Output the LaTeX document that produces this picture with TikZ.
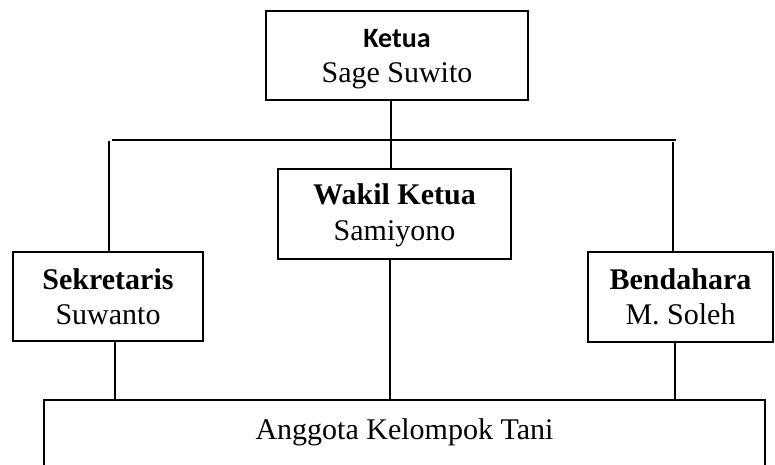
\documentclass[tikz,border=0pt]{standalone}
\usepackage{fontspec}
\setmainfont{Liberation Serif}
\newfontfamily\califont{Carlito}
\begin{document}
\begin{tikzpicture}[x=1pt,y=-1pt,
  box/.style={draw,line width=1.3pt,inner sep=0pt,align=center,
    font=\fontsize{30}{35}\selectfont},
  txt/.style={inner sep=0pt,align=center,font=\fontsize{30}{35.5}\selectfont},
  link/.style={line width=1.3pt}]
\useasboundingbox (0,0) rectangle (775,464);
\clip (0,0) rectangle (775,464);
\node[box,minimum width=262pt,minimum height=89pt] (ketua) at (397,55.5) {};
\node[txt] (ketuatext) at (397,59)
  {{\califont\bfseries\fontsize{28}{35}\selectfont Ketua}\\Sage Suwito};
\node[box,minimum width=233pt,minimum height=90pt] (wakil) at (394.5,214) {};
\node[txt] (wakiltext) at (394.5,215.5) {\textbf{Wakil Ketua}\\Samiyono};
\node[box,minimum width=190pt,minimum height=89pt] (sekr) at (108,296.5)
  {\textbf{Sekretaris}\\Suwanto};
\node[box,minimum width=185pt,minimum height=90pt] (bend) at (680.5,297)
  {\textbf{Bendahara}\\M. Soleh};
\node[box,minimum width=721pt,minimum height=80pt] (angg) at (404.5,440) {};
\node[txt] (anggtext) at (404.5,432) {Anggota Kelompok Tani};
\coordinate (hl) at (112,140);
\coordinate (hr) at (676,140);
\coordinate (jm) at (391,140);
\coordinate (jl) at (109,141);
\coordinate (jr) at (673,142);
\coordinate (bl) at (115,0);
\coordinate (bm) at (390,0);
\coordinate (br) at (675,0);
\draw[link] (hl) -- (hr);
\draw[link] (ketua.south -| jm) -- (wakil.north -| jm);
\draw[link] (jl) -- (sekr.north -| jl);
\draw[link] (jr) -- (bend.north -| jr);
\draw[link] (sekr.south -| bl) -- (angg.north -| bl);
\draw[link] (wakil.south -| bm) -- (angg.north -| bm);
\draw[link] (bend.south -| br) -- (angg.north -| br);
\end{tikzpicture}
\end{document}
